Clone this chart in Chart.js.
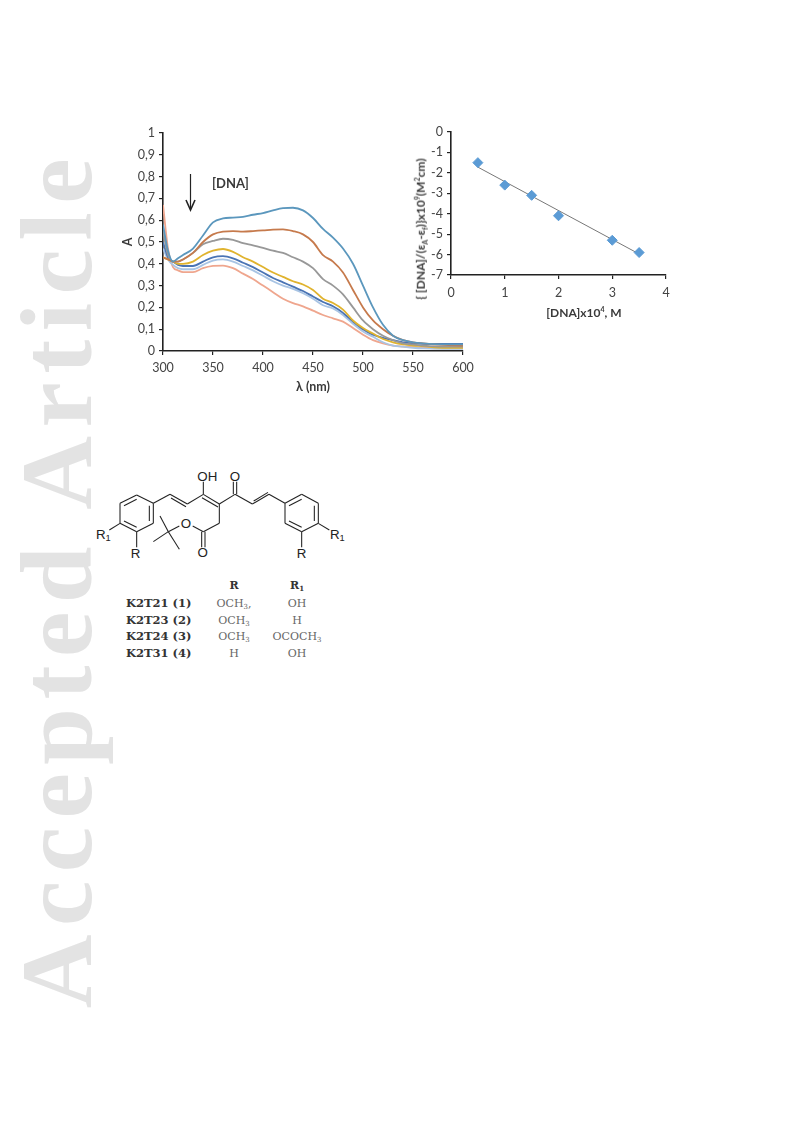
<!DOCTYPE html>
<html>
<head>
<meta charset="utf-8">
<script src="https://cdn.jsdelivr.net/npm/chart.js@4"></script>
<style>
html, body { margin: 0; padding: 0; background: #fff; }
#page { position: relative; width: 793px; height: 1123px; overflow: hidden; }
#page canvas { position: absolute; }
.abs { position: absolute; white-space: nowrap; }
#watermark { left: 9px; top: 150px; font: bold 102px/96px "Liberation Serif"; letter-spacing: 8.5px; color: #e3e3e3; writing-mode: vertical-rl; transform: rotate(180deg); }
#dnaLabel { left: 212px; top: 175px; font: bold 13px Lato; color: #3a3a3a; }
#ratioTitle { left: 421px; top: 229px; font: bold 12px Lato; color: #3a3a3a; transform: translate(-50%, -50%) rotate(-90deg); }
#ratioTitle sub { font-size: 7px; }
#ratioTitle sup { font-size: 7px; }
#concTitle { left: 584px; top: 312px; font: bold 12px Lato; color: #3a3a3a; transform: translate(-50%, -50%); }
#concTitle sup { font-size: 7px; }
.tbl { font-family: "DejaVu Serif"; font-size: 11px; transform: translate(-50%, -50%); color: #666; }
.tbl sub { font-size: 7px; vertical-align: -2px; line-height: 0; }
.tbl.b { font-weight: bold; color: #333; }
.tbl.n { transform: translate(0, -50%); font-size: 11.5px; }
svg { position: absolute; }
svg text { font-family: "Liberation Sans"; font-size: 40px; fill: #222; text-anchor: middle; }
</style>
</head>
<body>
<div id="page">
  <div id="watermark" class="abs">Accepted Article</div>
  <canvas id="spectra"></canvas>
  <canvas id="binding"></canvas>
  <div id="dnaLabel" class="abs">[DNA]</div>
  <div id="ratioTitle" class="abs">{ [DNA]/(&epsilon;<sub>A</sub>-&epsilon;<sub>f</sub>)}x10<sup>9</sup>(M<sup>2</sup>cm)</div>
  <div id="concTitle" class="abs">[DNA]x10<sup>4</sup>, M</div>
  <svg style="left:120px;top:120px" width="140" height="100" viewBox="0 0 140 100">
    <line x1="70.5" y1="54" x2="70.5" y2="88" stroke="#222" stroke-width="1.2"/>
    <path d="M66 80 L70.5 90 L75 80" fill="none" stroke="#222" stroke-width="1.6"/>
  </svg>
  <svg id="mol" style="left:90px;top:460px" width="280" height="210" viewBox="0 0 840 630"></svg>
</div>
<script>
// wavelength axis and absorbance traces
var wavelengths = [300,305,310,315,320,330,340,350,360,370,380,390,400,410,420,430,440,450,460,470,480,490,500,510,520,530,540,550,560,580,600];
var curve1 = [.58,.46,.41,.425,.44,.47,.53,.59,.608,.612,.615,.625,.633,.645,.655,.657,.645,.61,.56,.52,.47,.40,.30,.20,.12,.07,.05,.04,.035,.03,.03];
var curve2 = [.43,.42,.41,.41,.42,.45,.50,.535,.548,.55,.548,.55,.553,.557,.558,.55,.535,.50,.44,.41,.36,.28,.20,.14,.10,.07,.05,.04,.035,.028,.025];
var curve3 = [.55,.44,.41,.41,.42,.45,.49,.505,.515,.51,.495,.485,.473,.46,.45,.43,.41,.38,.33,.30,.26,.20,.14,.10,.07,.05,.035,.03,.025,.02,.02];
var curve4 = [.43,.42,.41,.40,.40,.41,.44,.46,.468,.455,.43,.41,.385,.36,.34,.32,.305,.28,.24,.22,.19,.14,.105,.08,.055,.04,.03,.025,.022,.015,.015];
var curve5 = [.50,.43,.41,.395,.39,.39,.41,.43,.435,.425,.405,.385,.36,.335,.315,.295,.275,.25,.225,.205,.175,.135,.10,.075,.06,.05,.04,.035,.033,.032,.032];
var curve6 = [.47,.42,.395,.38,.375,.375,.395,.415,.42,.41,.39,.37,.345,.32,.30,.285,.265,.24,.21,.195,.165,.125,.09,.065,.04,.025,.02,.015,.012,.01,.01];
var curve7 = [.67,.47,.385,.37,.362,.362,.38,.39,.392,.38,.355,.33,.30,.27,.24,.22,.205,.185,.165,.15,.135,.105,.075,.05,.035,.025,.02,.018,.015,.012,.012];
var curveColors = ["#5b97bd","#c67a4c","#989898","#e0b32e","#4a74b4","#a8c4e4","#efa68e"];

// binding plot
var dnaConc = [0.5,1,1.5,2,3,3.5];
var dnaRatio = [-1.5,-2.6,-3.1,-4.1,-5.3,-5.9];
var fitConc = [0.5,3.5];
var fitRatio = [-1.72,-5.97];

function points(xs, ys) {
  return xs.map(function(x, i) { return {x: x, y: ys[i]}; });
}

function place(id, left, top, w, h) {
  var c = document.getElementById(id);
  c.style.left = left + "px";
  c.style.top = top + "px";
  c.style.width = w + "px";
  c.style.height = h + "px";
  c.width = w;
  c.height = h;
  return c;
}

var tickFont = {family: "Lato", size: 12.5};
var axisGrid = {display: true, drawOnChartArea: false, drawTicks: true, tickLength: 4, color: "#222", lineWidth: 1.2};
var axisBorder = {display: true, color: "#222", width: 1.6};

Chart.defaults.animation = false;
Chart.defaults.color = "#444";

var curves = [curve1,curve2,curve3,curve4,curve5,curve6,curve7];
new Chart(place("spectra", 120, 120, 360, 280), {
  type: "scatter",
  data: {
    datasets: curves.map(function(c, i) {
      return {
        data: points(wavelengths, c),
        showLine: true,
        borderColor: curveColors[i],
        borderWidth: 1.8,
        pointRadius: 0,
        cubicInterpolationMode: "monotone"
      };
    })
  },
  options: {
    responsive: false,
    layout: {padding: {top: 13, right: 17, left: 0, bottom: 0}},
    plugins: {legend: {display: false}, tooltip: {enabled: false}},
    scales: {
      x: {
        type: "linear", min: 300, max: 600,
        afterFit: function(s) { s.height = 49; },
        ticks: {stepSize: 50, font: tickFont, maxRotation: 0, padding: 5},
        grid: axisGrid, border: axisBorder,
        title: {display: true, text: "\u03bb (nm)", color: "#3a3a3a", font: {family: "Lato", size: 12.5, weight: "bold"}, padding: {top: 5, bottom: 6}}
      },
      y: {
        min: 0, max: 1,
        afterFit: function(s) { s.width = 43; },
        ticks: {
          stepSize: 0.1, font: tickFont, padding: 4,
          callback: function(v) { return String(Math.round(v * 10) / 10).replace(".", ","); }
        },
        grid: axisGrid, border: axisBorder,
        title: {display: true, text: "A", color: "#3a3a3a", font: {family: "Lato", size: 12.5, weight: "bold"}, padding: 0}
      }
    }
  }
});

new Chart(place("binding", 400, 120, 280, 200), {
  type: "scatter",
  data: {
    datasets: [
      {data: points(dnaConc, dnaRatio), pointStyle: "rectRot", pointRadius: 5, backgroundColor: "#5b9bd5", borderColor: "#5b9bd5"},
      {data: points(fitConc, fitRatio), showLine: true, borderColor: "#777", borderWidth: 1, pointRadius: 0}
    ]
  },
  options: {
    responsive: false,
    layout: {padding: {top: 12, right: 14, left: 0, bottom: 0}},
    plugins: {legend: {display: false}, tooltip: {enabled: false}},
    scales: {
      x: {
        type: "linear", min: 0, max: 4,
        afterFit: function(s) { s.height = 45; },
        ticks: {stepSize: 1, font: tickFont, maxRotation: 0, padding: 6},
        grid: axisGrid, border: axisBorder
      },
      y: {
        min: -7, max: 0,
        afterFit: function(s) { s.width = 51; },
        ticks: {stepSize: 1, font: tickFont, padding: 4},
        grid: axisGrid, border: axisBorder
      }
    }
  }
});

// molecule sketch, in 3x coordinates of its own box
var molBonds = [
  [90,130,140,105],[140,105,190,130],[190,130,190,190],[190,190,140,215],[140,215,90,190],[90,190,90,130],
  [102,137,140,118],[178,137,178,183],[140,202,102,183],
  [90,190,58,210],[140,215,140,262],
  [190,130,240,103],[240,103,292,132],[243,114,288,140],[292,132,340,103],
  [340,103,340,65],[340,103,388,132],[336,113,384,141],
  [388,132,435,103],[430,103,430,65],[440,103,440,65],
  [435,103,487,132],[487,132,537,103],[491,123,534,97],[537,103,585,130],
  [585,130,635,103],[635,103,685,130],[685,130,685,190],[685,190,635,215],[635,215,585,190],[585,190,585,130],
  [597,137,635,118],[673,137,673,183],[635,202,597,183],
  [685,190,718,210],[635,215,635,262],
  [388,132,388,190],[388,190,340,215],[335,215,335,262],[345,215,345,262],
  [340,215,308,198],[268,198,235,215],
  [235,215,210,168],[235,215,190,245],[235,215,268,268]
];
var molLabels = [
  ["OH",352,62],["O",435,62],["O",288,204],["O",338,292],
  ["R",137,294],["R",635,294]
];
var mol = document.getElementById("mol");
var molSvg = "";
molBonds.forEach(function(b) {
  molSvg += '<line x1="'+b[0]+'" y1="'+b[1]+'" x2="'+b[2]+'" y2="'+b[3]+'" stroke="#222" stroke-width="3.2"/>';
});
molLabels.forEach(function(l) {
  molSvg += '<text x="'+l[1]+'" y="'+l[2]+'">'+l[0]+'</text>';
});
molSvg += '<text x="40" y="236">R<tspan font-size="28" dy="8">1</tspan></text>';
molSvg += '<text x="742" y="236">R<tspan font-size="28" dy="8">1</tspan></text>';
mol.innerHTML = molSvg;

// substituent table
var tableNames = ["K2T21 (1)","K2T23 (2)","K2T24 (3)","K2T31 (4)"];
var tableR = ["OCH<sub>3</sub>,","OCH<sub>3</sub>","OCH<sub>3</sub>","H"];
var tableR1 = ["OH","H","OCOCH<sub>3</sub>","OH"];
var tableRows = [603,619.5,636,653];
var page = document.getElementById("page");
function cell(cls, x, y, html) {
  var d = document.createElement("div");
  d.className = "abs tbl " + cls;
  d.style.left = x + "px";
  d.style.top = y + "px";
  d.innerHTML = html;
  page.appendChild(d);
}
cell("b", 234, 585, "R");
cell("b", 297, 585, "R<sub>1</sub>");
tableNames.forEach(function(n, i) {
  cell("b n", 126, tableRows[i], n);
  cell("", 234, tableRows[i], tableR[i]);
  cell("", 297, tableRows[i], tableR1[i]);
});
</script>
</body>
</html>
